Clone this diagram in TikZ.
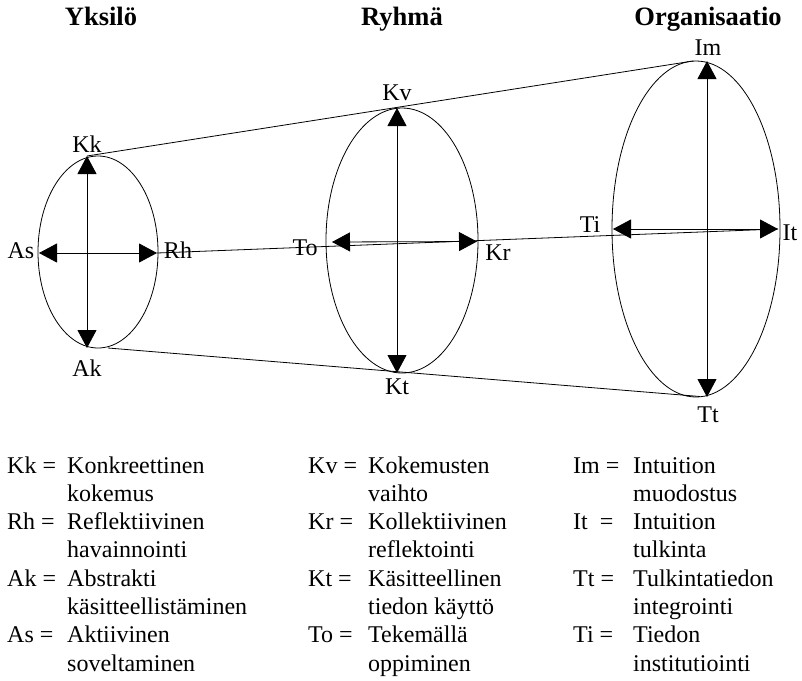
\documentclass[tikz,border=0pt]{standalone}
\usepackage{fontspec}
\setmainfont{Liberation Serif}
\usetikzlibrary{arrows.meta,shapes.geometric}
\begin{document}
\begin{tikzpicture}[x=1pt,y=-1pt,
  txt/.style={inner sep=0pt,font=\fontsize{24}{28}\selectfont},
  ttl/.style={inner sep=0pt,anchor=base,font=\fontsize{26.5}{30}\selectfont\bfseries},
  lbl/.style={txt,anchor=base},
  key/.style={txt,anchor=base west},
  oval/.style={draw,ellipse,inner sep=0pt,line width=0.8pt},
  link/.style={line width=0.8pt},
  axis/.style={line width=0.8pt,{Triangle[length=18pt,width=19pt]}-{Triangle[length=18pt,width=19pt]}}]
\useasboundingbox (0,0) rectangle (802,680);

% column titles
\node[ttl] (t1) at (101,25) {Yksilö};
\node[ttl] (t2) at (402,25) {Ryhmä};
\node[ttl] (t3) at (708,25) {Organisaatio};

% the three learning cycles
\node[oval,minimum width=120pt,minimum height=192pt] (e1) at (98,252) {};
\node[oval,minimum width=152pt,minimum height=265pt] (e2) at (402,240.5) {};
\node[oval,minimum width=168pt,minimum height=336pt] (e3) at (696,229) {};

% axis end points
\coordinate (kk) at (87,156);  \coordinate (ak) at (87,348);
\coordinate (as) at (39,253);  \coordinate (rh) at (157,253);
\coordinate (kv) at (397,108); \coordinate (kt) at (397,373);
\coordinate (to) at (332,242); \coordinate (kr) at (477,241.5);
\coordinate (im) at (707,61);  \coordinate (tt) at (707,397);
\coordinate (ti) at (613,229); \coordinate (it) at (778,229);

% outline of the funnel
\coordinate (b1) at (108,348);
\coordinate (u3) at (693,61);
\coordinate (b3) at (700,396.5);
\draw[link] (kk) -- (u3);
\draw[link] (b1) -- (b3);
\draw[link] (rh) -- (it);

% axes
\draw[axis] (kk) -- (ak);
\draw[axis] (as) -- (rh);
\draw[axis] (kv) -- (kt);
\draw[axis] (to) -- (kr);
\draw[axis] (im) -- (tt);
\draw[axis] (ti) -- (it);

% axis labels
\node[lbl] (lkk) at (87,152) {Kk};
\node[lbl] (lak) at (87,376) {Ak};
\node[lbl] (las) at (21,258) {As};
\node[lbl] (lrh) at (178,258) {Rh};
\node[lbl] (lkv) at (397,100) {Kv};
\node[lbl] (lkt) at (397,394) {Kt};
\node[lbl] (lto) at (305,255) {To};
\node[lbl] (lkr) at (498,260) {Kr};
\node[lbl] (lim) at (708,55) {Im};
\node[lbl] (ltt) at (708,422) {Tt};
\node[lbl] (lti) at (590,232) {Ti};
\node[lbl] (lit) at (790,240) {It};

% legend
\def\r#1{473+#1*28.3}
\node[key] (k1a) at (7,{\r0}) {Kk =};
\node[key] (k1b) at (67,{\r0}) {Konkreettinen};
\node[key] (k1c) at (67,{\r1}) {kokemus};
\node[key] (k2a) at (7,{\r2}) {Rh =};
\node[key] (k2b) at (67,{\r2}) {Reflektiivinen};
\node[key] (k2c) at (67,{\r3}) {havainnointi};
\node[key] (k3a) at (7,{\r4}) {Ak =};
\node[key] (k3b) at (67,{\r4}) {Abstrakti};
\node[key] (k3c) at (67,{\r5}) {käsitteellistäminen};
\node[key] (k4a) at (7,{\r6}) {As =};
\node[key] (k4b) at (67,{\r6}) {Aktiivinen};
\node[key] (k4c) at (67,{\r7}) {soveltaminen};

\node[key] (m1a) at (308,{\r0}) {Kv =};
\node[key] (m1b) at (368,{\r0}) {Kokemusten};
\node[key] (m1c) at (368,{\r1}) {vaihto};
\node[key] (m2a) at (308,{\r2}) {Kr =};
\node[key] (m2b) at (368,{\r2}) {Kollektiivinen};
\node[key] (m2c) at (368,{\r3}) {reflektointi};
\node[key] (m3a) at (308,{\r4}) {Kt =};
\node[key] (m3b) at (368,{\r4}) {Käsitteellinen};
\node[key] (m3c) at (368,{\r5}) {tiedon käyttö};
\node[key] (m4a) at (308,{\r6}) {To =};
\node[key] (m4b) at (368,{\r6}) {Tekemällä};
\node[key] (m4c) at (368,{\r7}) {oppiminen};

\node[key] (n1a) at (573,{\r0}) {Im =};
\node[key] (n1b) at (633,{\r0}) {Intuition};
\node[key] (n1c) at (633,{\r1}) {muodostus};
\node[key] (n2a) at (573,{\r2}) {It\ \ =};
\node[key] (n2b) at (633,{\r2}) {Intuition};
\node[key] (n2c) at (633,{\r3}) {tulkinta};
\node[key] (n3a) at (573,{\r4}) {Tt =};
\node[key] (n3b) at (633,{\r4}) {Tulkintatiedon};
\node[key] (n3c) at (633,{\r5}) {integrointi};
\node[key] (n4a) at (573,{\r6}) {Ti =};
\node[key] (n4b) at (633,{\r6}) {Tiedon};
\node[key] (n4c) at (633,{\r7}) {institutiointi};
\end{tikzpicture}
\end{document}
